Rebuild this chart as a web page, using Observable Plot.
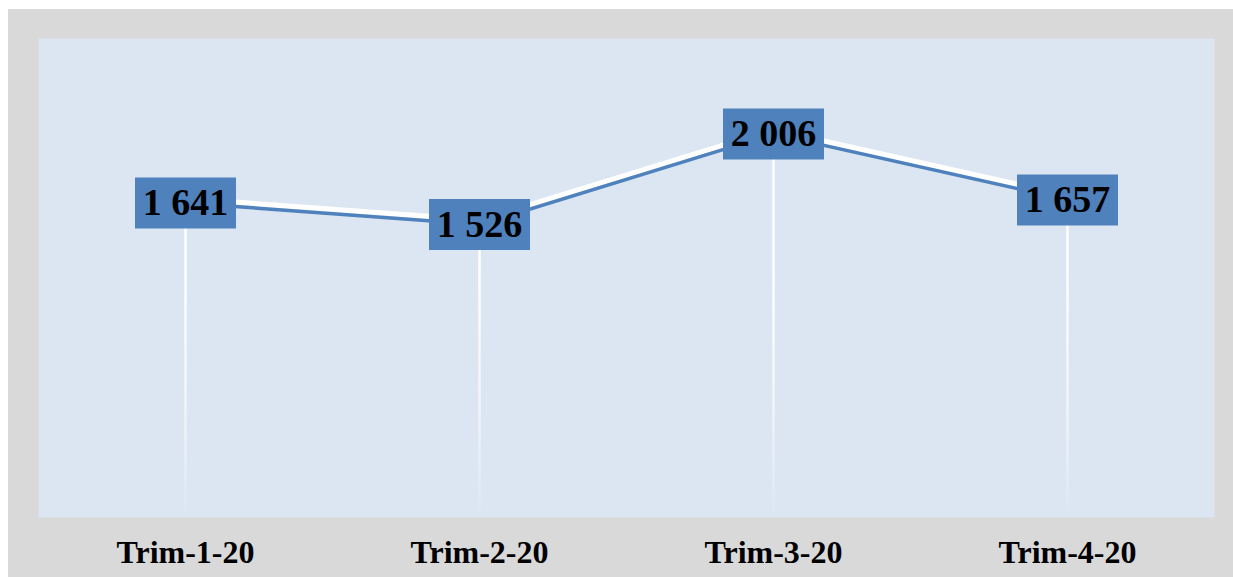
<!DOCTYPE html>
<html>
<head>
<meta charset="utf-8">
<script src="https://cdn.jsdelivr.net/npm/d3@7"></script>
<script src="https://cdn.jsdelivr.net/npm/@observablehq/plot@0.6"></script>
<style>
  html, body { margin: 0; padding: 0; background: #ffffff; }
  #chart { position: absolute; left: 8px; top: 9px; }
</style>
</head>
<body>
<div id="chart"></div>
<script>
const categories = ["Trim-1-20", "Trim-2-20", "Trim-3-20", "Trim-4-20"];
const values = [1641, 1526, 2006, 1657];
const labels = ["1 641", "1 526", "2 006", "1 657"];

const data = categories.map((c, i) => ({cat: c, value: values[i], label: labels[i]}));

const BLUE = "#4f81bd";
const boxSymbol = {
  draw(ctx) { ctx.rect(-50.5, -25.5, 101, 51); }
};

const W = 1225, H = 568;
const plot = Plot.plot({
  width: W,
  height: H,
  marginLeft: 30,
  marginRight: 19,
  marginTop: 29,
  marginBottom: 60,
  style: {fontFamily: "'Liberation Serif', 'Times New Roman', serif", fontSize: "32px", fontWeight: "bold", background: "#d9d9d9", color: "#000"},
  x: {type: "band", domain: categories, padding: 0, label: null},
  y: {domain: [0, 2500], range: [502.7, 31.5], axis: null},
  marks: [
    Plot.frame({fill: "#dce6f2", stroke: null}),
    Plot.ruleX(data, {x: "cat", y1: 0, y2: "value", stroke: "url(#dropfade)", strokeWidth: 2.5}),
    Plot.line(data, {x: "cat", y: "value", stroke: "#ffffff", strokeWidth: 5, dy: -4.5}),
    Plot.line(data, {x: "cat", y: "value", stroke: BLUE, strokeWidth: 3.5}),
    Plot.dot(data, {x: "cat", y: "value", symbol: boxSymbol, fill: BLUE, stroke: null, r: 10}),
    Plot.text(data, {x: "cat", y: "value", text: "label", fontSize: 38, fontWeight: "bold", fill: "#000"}),
    Plot.axisX({tickSize: 0, tickPadding: 23, fontSize: 32, fontWeight: "bold", fill: "#000", label: null})
  ]
});

// gradient for fading drop lines, positioned via the y scale
const ys = plot.scale("y");
const ns = "http://www.w3.org/2000/svg";
const defs = document.createElementNS(ns, "defs");
const grad = document.createElementNS(ns, "linearGradient");
grad.setAttribute("id", "dropfade");
grad.setAttribute("gradientUnits", "userSpaceOnUse");
grad.setAttribute("x1", 0); grad.setAttribute("x2", 0);
grad.setAttribute("y1", ys.apply(1300)); grad.setAttribute("y2", ys.apply(0));
[[0, 1], [0.6, 0.55], [1, 0.05]].forEach(([o, a]) => {
  const s = document.createElementNS(ns, "stop");
  s.setAttribute("offset", o);
  s.setAttribute("stop-color", "#ffffff");
  s.setAttribute("stop-opacity", a);
  grad.appendChild(s);
});
defs.appendChild(grad);
plot.insertBefore(defs, plot.firstChild);

document.getElementById("chart").appendChild(plot);
</script>
</body>
</html>
